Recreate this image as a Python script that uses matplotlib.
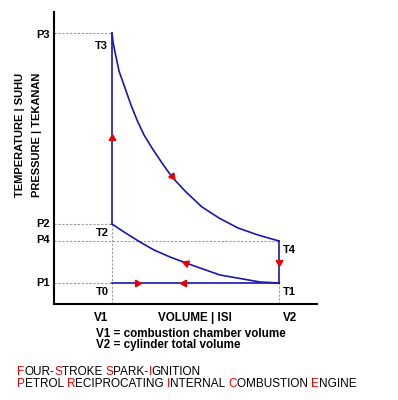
""" Pressure-volume diagram of the ideal four-stroke petrol engine (Otto cycle). """

import matplotlib.pyplot as plt

plt.rcParams['font.family'] = ['Liberation Sans', 'DejaVu Sans']

# state points (volume / pressure in drawing units)
V1, V2 = 58, 225
P1, P2, P3, P4 = 21, 80, 271, 63

# power stroke T3 -> T4
expansion_v = [58, 59, 61, 65, 71, 77, 83, 90, 98, 108, 118, 132, 148, 165, 184, 204, 225]
expansion_p = [271, 262, 252, 233, 216, 199, 184, 169, 156, 141, 127, 112, 97, 86, 76, 69, 63]

# compression stroke T1 -> T2
compression_v = [58, 70, 86, 100, 116, 132, 146, 166, 189, 206, 225]
compression_p = [80, 72, 62, 54, 47, 41, 36, 29, 25, 22, 21]

# flow direction arrows: position and pointing angle
arrow_v = [58, 118, 132, 225, 83, 130]
arrow_p = [166, 128, 41, 42, 21, 21]
arrow_angle = [0, -139, 69, 180, -90, 90]

pressure_labels = ['P1', 'P2', 'P3', 'P4']
temperature_labels = ['T0', 'T1', 'T2', 'T3', 'T4']

BLUE = '#1818b0'
RED = '#e80000'
GREY = '#9a9a9a'


def px(x, y):
    """ pixel position of the 398x400 picture -> figure fraction """
    return x / 398, 1 - y / 400


def main():
    fig = plt.figure(figsize=(3.98, 4.0), dpi=100)
    ax = fig.add_axes([54 / 398, 96 / 400, 263 / 398, 292 / 400])
    ax.set_xlim(0, 263)
    ax.set_ylim(0, 292)

    for side in ['top', 'right']:
        ax.spines[side].set_visible(False)
    for side in ['left', 'bottom']:
        ax.spines[side].set_linewidth(1.5)
    ax.set_xticks([])
    ax.set_yticks([])

    # dotted guide lines
    guide = dict(color=GREY, lw=0.8, ls=(0, (2, 1.5)), zorder=1)
    ax.plot([0, V1], [P3, P3], **guide)
    ax.plot([0, V1], [P2, P2], **guide)
    ax.plot([0, V2], [P4, P4], **guide)
    ax.plot([0, V1], [P1, P1], **guide)
    ax.plot([V1, V1], [0, P2], **guide)
    ax.plot([V2, V2], [0, P1], **guide)

    # the cycle
    cycle = dict(color=BLUE, lw=1.2, zorder=2)
    ax.plot([V1, V2], [P1, P1], **cycle)
    ax.plot(compression_v, compression_p, **cycle)
    ax.plot([V1, V1], [P2, P3], **cycle)
    ax.plot(expansion_v, expansion_p, **cycle)
    ax.plot([V2, V2], [P4, P1], **cycle)

    for v, p, a in zip(arrow_v, arrow_p, arrow_angle):
        ax.plot(v, p, marker=(3, 0, a), ms=5.5, color=RED, mec=RED, ls='none', zorder=3)

    label = dict(fontsize=8, fontweight='bold', va='center', clip_on=False)
    for name, p in zip(pressure_labels, [P1, P2, P3 - 2, P4 + 1]):
        ax.text(-4, p, name, ha='right', **label)
    t_pos = [(V1 - 3, 12, 'right'), (V2 + 4, 12, 'left'), (V1 - 3, 71, 'right'),
             (V1 - 4, 258, 'right'), (V2 + 4, 54, 'left')]
    for name, (v, p, ha) in zip(temperature_labels, t_pos):
        ax.text(v, p, name, ha=ha, **label)

    # axis titles
    fig.text(*px(20, 73), 'TEMPERATURE | SUHU', rotation=90, ha='center', va='top',
             fontsize=8, fontweight='bold')
    fig.text(*px(37, 73), 'PRESSURE | TEKANAN', rotation=90, ha='center', va='top',
             fontsize=8, fontweight='bold')
    fig.text(*px(101, 318), 'V1', ha='center', va='center', fontsize=8.4, fontweight='bold')
    fig.text(*px(195, 318), 'VOLUME | ISI', ha='center', va='center', fontsize=8.4, fontweight='bold')
    fig.text(*px(290, 318), 'V2', ha='center', va='center', fontsize=8.4, fontweight='bold')
    fig.text(*px(96, 334), 'V1 = combustion chamber volume', va='center', fontsize=8.4, fontweight='bold')
    fig.text(*px(96, 345), 'V2 = cylinder total volume', va='center', fontsize=8.4, fontweight='bold')

    # title with red initials
    renderer = fig.canvas.get_renderer()
    lines = [[('F', RED), ('OUR-', 'black'), ('S', RED), ('TROKE ', 'black'), ('S', RED),
              ('PARK-', 'black'), ('I', RED), ('GNITION', 'black')],
             [('P', RED), ('ETROL ', 'black'), ('R', RED), ('ECIPROCATING ', 'black'), ('I', RED),
              ('NTERNAL ', 'black'), ('C', RED), ('OMBUSTION ', 'black'), ('E', RED), ('NGINE', 'black')]]
    for row, y in zip(lines, [372, 384]):
        x = 17 / 398
        for piece, colour in row:
            t = fig.text(x, px(0, y)[1], piece, color=colour, va='center', fontsize=8.5)
            bb = t.get_window_extent(renderer)
            x += bb.width / fig.bbox.width

    fig.savefig('out.png', dpi=100)


if __name__ == "__main__":
    main()
